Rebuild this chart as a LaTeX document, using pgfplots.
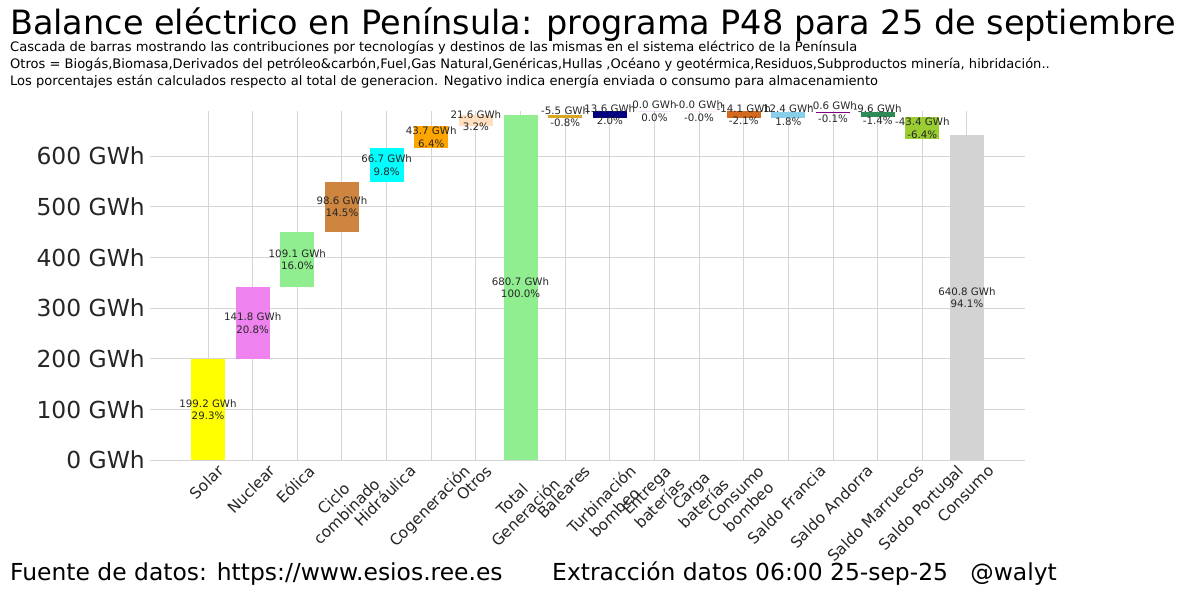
\documentclass[border=0pt]{standalone}
\usepackage{pgfplots}
\pgfplotsset{compat=1.18}
\usepackage{fontspec}
\setmainfont{DejaVu Sans}
\usepackage{graphicx}
\newcommand\rl[1]{\rotatebox{45}{\begin{tabular}{@{}c@{}}#1\end{tabular}}}
\definecolor{cSolar}{HTML}{FFFF00}
\definecolor{cNuclear}{HTML}{EE82EE}
\definecolor{cEolica}{HTML}{90EE90}
\definecolor{cCiclo}{HTML}{CD853F}
\definecolor{cHidr}{HTML}{00FFFF}
\definecolor{cCogen}{HTML}{FFA500}
\definecolor{cOtros}{HTML}{FFDFBF}
\definecolor{cTotal}{HTML}{90EE90}
\definecolor{cBaleares}{HTML}{DAA520}
\definecolor{cTurb}{HTML}{000080}
\definecolor{cEntrega}{HTML}{8A2BE2}
\definecolor{cCarga}{HTML}{FF69B4}
\definecolor{cConsBomb}{HTML}{D2691E}
\definecolor{cFrancia}{HTML}{87CEEB}
\definecolor{cAndorra}{HTML}{800080}
\definecolor{cMarruecos}{HTML}{2E8B57}
\definecolor{cPortugal}{HTML}{9ACD32}
\definecolor{cConsumo}{HTML}{D3D3D3}
\definecolor{tickgray}{HTML}{262626}
\definecolor{gridgray}{HTML}{D5D5D5}
\newcommand\wbar[5]{\addplot[fill=#5, draw=none, forget plot] coordinates {(#1,#3) (#2,#3) (#2,#4) (#1,#4)};}
\begin{document}
\begin{tikzpicture}
\path[use as bounding box] (0,0) rectangle (1199bp,595bp);
\node[anchor=base west, inner sep=0pt, font=\fontsize{33.6}{40}\selectfont] at (10bp,560bp) {Balance eléctrico en Península: programa P48 para 25 de septiembre};
\node[anchor=base west, inner sep=0pt, font=\fontsize{13.1}{16}\selectfont] at (10bp,543bp) {Cascada de barras mostrando las contribuciones por tecnologías y destinos de las mismas en el sistema eléctrico de la Península};
\node[anchor=base west, inner sep=0pt, font=\fontsize{13.1}{16}\selectfont] at (10bp,526bp) {Otros = Biogás,Biomasa,Derivados del petróleo\&carbón,Fuel,Gas Natural,Genéricas,Hullas ,Océano y geotérmica,Residuos,Subproductos minería, hibridación..};
\node[anchor=base west, inner sep=0pt, font=\fontsize{13.1}{16}\selectfont] at (10bp,509bp) {Los porcentajes están calculados respecto al total de generacion. Negativo indica energía enviada o consumo para almacenamiento};
\node[anchor=base west, inner sep=0pt, font=\fontsize{23.5}{28}\selectfont] at (10bp,15bp) {Fuente de datos: https://www.esios.ree.es};
\node[anchor=base west, inner sep=0pt, font=\fontsize{23.5}{28}\selectfont] at (552bp,15bp) {Extracción datos 06:00 25-sep-25\ \ \ @walyt};
\begin{axis}[
  at={(150bp,135bp)}, anchor=south west,
  scale only axis, width=875bp, height=349bp,
  xmin=-1.3, xmax=18.3, ymin=0, ymax=689,
  axis line style={draw=none},
  major tick length=0pt,
  grid=major,
  major grid style={gridgray, line width=1bp},
  xtick={0,1,...,17},
  xticklabels={\rl{Solar},\rl{Nuclear},\rl{Eólica},\rl{Ciclo\\combinado},\rl{Hidráulica},\rl{Cogeneración},\rl{Otros},\rl{Total\\Generación},\rl{Baleares},\rl{Turbinación\\bombeo},\rl{Entrega\\baterías},\rl{Carga\\baterías},\rl{Consumo\\bombeo},\rl{Saldo Francia},\rl{Saldo Andorra},\rl{Saldo Marruecos},\rl{Saldo Portugal},\rl{Consumo}},
  xticklabel style={anchor=north, inner sep=0pt, yshift=-3bp, text=tickgray, font=\fontsize{15.5}{18.5}\selectfont},
  ytick={0,100,...,600},
  yticklabels={0 GWh,100 GWh,200 GWh,300 GWh,400 GWh,500 GWh,600 GWh},
  yticklabel style={anchor=east, inner sep=0pt, xshift=-5bp, text=tickgray, font=\fontsize{23.5}{28}\selectfont},
  every node near coord/.append style={anchor=center, align=center, inner sep=0pt, text=tickgray, font=\fontsize{10.3}{12.3}\selectfont},
]
\wbar{-0.38}{0.38}{0}{199.2}{cSolar}
\wbar{0.62}{1.38}{199.2}{341.0}{cNuclear}
\wbar{1.62}{2.38}{341.0}{450.1}{cEolica}
\wbar{2.62}{3.38}{450.1}{548.7}{cCiclo}
\wbar{3.62}{4.38}{548.7}{615.4}{cHidr}
\wbar{4.62}{5.38}{615.4}{659.1}{cCogen}
\wbar{5.62}{6.38}{659.1}{680.7}{cOtros}
\wbar{6.62}{7.38}{0}{680.7}{cTotal}
\wbar{7.62}{8.38}{675.2}{680.7}{cBaleares}
\wbar{8.62}{9.38}{675.2}{688.8}{cTurb}
\wbar{9.62}{10.38}{688.8}{688.8}{cEntrega}
\wbar{10.62}{11.38}{688.8}{688.8}{cCarga}
\wbar{11.62}{12.38}{674.7}{688.8}{cConsBomb}
\wbar{12.62}{13.38}{674.7}{687.1}{cFrancia}
\wbar{13.62}{14.38}{686.5}{687.1}{cAndorra}
\wbar{14.62}{15.38}{676.9}{686.5}{cMarruecos}
\wbar{15.62}{16.38}{633.5}{676.9}{cPortugal}
\wbar{16.62}{17.38}{0}{640.8}{cConsumo}
\addplot[draw=none, mark=none, nodes near coords, point meta=explicit symbolic] coordinates {
 (0,99.6) [{199.2 GWh\\29.3\%}]
 (1,270.1) [{141.8 GWh\\20.8\%}]
 (2,395.55) [{109.1 GWh\\16.0\%}]
 (3,499.4) [{98.6 GWh\\14.5\%}]
 (4,582.05) [{66.7 GWh\\9.8\%}]
 (5,637.25) [{43.7 GWh\\6.4\%}]
 (6,669.9) [{21.6 GWh\\3.2\%}]
 (7,340.35) [{680.7 GWh\\100.0\%}]
 (8,677.95) [{-5.5 GWh\\-0.8\%}]
 (9,682.0) [{13.6 GWh\\2.0\%}]
 (10,688.8) [{0.0 GWh\\0.0\%}]
 (11,688.8) [{-0.0 GWh\\-0.0\%}]
 (12,681.75) [{-14.1 GWh\\-2.1\%}]
 (13,680.9) [{12.4 GWh\\1.8\%}]
 (14,686.8) [{-0.6 GWh\\-0.1\%}]
 (15,681.7) [{-9.6 GWh\\-1.4\%}]
 (16,655.2) [{-43.4 GWh\\-6.4\%}]
 (17,320.4) [{640.8 GWh\\94.1\%}]
};
\end{axis}
\end{tikzpicture}
\end{document}
